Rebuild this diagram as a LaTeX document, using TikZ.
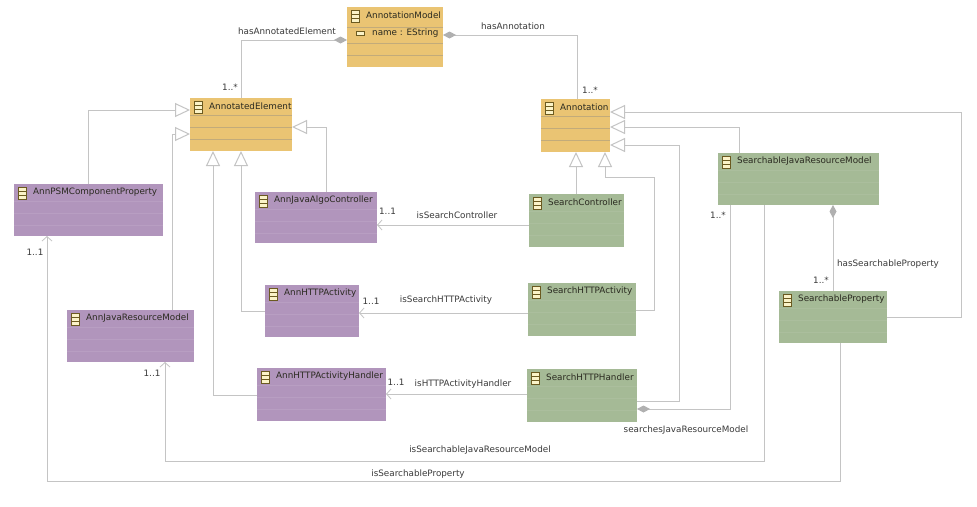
\documentclass[tikz,border=0pt]{standalone}
\usepackage{fontspec}
\setmainfont{DejaVu Sans}
\usetikzlibrary{arrows.meta}
\definecolor{lin}{HTML}{C4C4C4}
\definecolor{dia}{HTML}{B0B0B0}
\definecolor{org}{HTML}{EAC473}
\definecolor{orgl}{HTML}{C2AB7A}
\definecolor{grn}{HTML}{A5BA96}
\definecolor{grnl}{HTML}{ABBE9D}
\definecolor{pur}{HTML}{B195BC}
\definecolor{purl}{HTML}{B89EC2}
\definecolor{txt}{HTML}{3A3A3A}
\definecolor{ttl}{HTML}{2A2A20}
\definecolor{ico}{HTML}{FBF3C8}
\definecolor{icol}{HTML}{6B5A20}
\tikzset{
  cls/.style={draw=none,inner sep=0pt,outer sep=0pt,anchor=north west},
  ttlnode/.style={anchor=west,inner sep=0pt,text=ttl,font=\fontsize{8.8}{10}\selectfont},
  lbl/.style={inner sep=0pt,text=txt,font=\fontsize{8.8}{10}\selectfont},
  conn/.style={draw=lin,line width=1pt},
  gen/.style={conn,-{Triangle[open,length=15pt,width=14pt,fill=white,line width=1pt]}},
  ass/.style={conn,-{Straight Barb[length=4.5pt,width=10pt,line width=0.8pt]}},
  aggr/.style={conn,{Diamond[length=13pt,width=7pt,color=dia,fill=dia]}-},
}
% name, x1, y1, x2, y2, fill, line colour, title, line offsets
\newcommand{\umlcls}[9]{%
  \node[cls,fill=#6,minimum width=#4pt-#2pt,minimum height=#5pt-#3pt] (#1) at (#2,#3) {};
  \foreach \yy in {#9} {\draw[#7,line width=0.8pt] (#2,#3+\yy) -- (#4,#3+\yy);}
  \draw[icol,fill=ico,line width=0.7pt] (#2+4,#3+3) rectangle (#2+12.5,#3+15);
  \draw[icol,line width=0.7pt] (#2+4,#3+7) -- (#2+12.5,#3+7) (#2+4,#3+11) -- (#2+12.5,#3+11);
  \node[ttlnode] (#1-t) at (#2+19,#3+8) {#8};
}
\begin{document}
\begin{tikzpicture}[x=1pt,y=-1pt]
\useasboundingbox (0,0) rectangle (977,506);
\fill[white] (0,0) rectangle (977,506);
\umlcls{AM}{347}{7}{443}{67}{org}{orgl}{AnnotationModel}{20,36,48}
\umlcls{AE}{190}{98}{292}{151}{org}{orgl}{AnnotatedElement}{17,29,41}
\umlcls{AN}{541}{99}{610}{152}{org}{orgl}{Annotation}{17,29,41}
\umlcls{SC}{529}{194}{624}{247}{grn}{grnl}{SearchController}{17,29,41}
\umlcls{SJ}{718}{153}{879}{205}{grn}{grnl}{SearchableJavaResourceModel}{17,29,41}
\umlcls{SA}{528}{283}{636}{336}{grn}{grnl}{SearchHTTPActivity}{17,29,41}
\umlcls{SH}{527}{369}{637}{422}{grn}{grnl}{SearchHTTPHandler}{17,29,41}
\umlcls{SP}{779}{291}{887}{343}{grn}{grnl}{SearchableProperty}{17,29,41}
\umlcls{PC}{14}{184}{163}{236}{pur}{purl}{AnnPSMComponentProperty}{17,29,41}
\umlcls{JC}{255}{192}{377}{243}{pur}{purl}{AnnJavaAlgoController}{17,29,41}
\umlcls{HA}{265}{285}{359}{337}{pur}{purl}{AnnHTTPActivity}{17,29,41}
\umlcls{JR}{67}{310}{194}{362}{pur}{purl}{AnnJavaResourceModel}{17,29,41}
\umlcls{HH}{257}{368}{386}{421}{pur}{purl}{AnnHTTPActivityHandler}{17,29,41}
% attribute row
\draw[icol,fill=ico,line width=0.6pt] (356.5,31.5) rectangle (364.5,35);
\node[lbl,anchor=west,text=ttl] (attr) at (372,33) {name : EString};
% associations with diamonds
\draw[aggr] (AM.west |- 0,40) -- (241,40) -- (AE.north -| 241,0);
\draw[aggr] (AM.east |- 0,35) -- (577,35) -- (AN.north -| 577,0);
\draw[aggr] (SH.east |- 0,409) -- (730,409) -- (SJ.south -| 730,0);
\draw[aggr] (SJ.south -| 833,0) -- (SP.north -| 833,0);
% generalisations
\draw[gen] (PC.north -| 88,0) -- (88,110) -- (AE.west |- 0,110);
\draw[gen] (JR.north -| 172,0) -- (172,134) -- (AE.west |- 0,134);
\draw[gen] (JC.north -| 326,0) -- (326,127) -- (AE.east |- 0,127);
\draw[gen] (HA.west |- 0,311) -- (241,311) -- (AE.south -| 241,0);
\draw[gen] (HH.west |- 0,395) -- (213,395) -- (AE.south -| 213,0);
\draw[gen] (SC.north -| 576,0) -- (AN.south -| 576,0);
\draw[gen] (SA.east |- 0,310) -- (654,310) -- (654,177) -- (605,177) -- (AN.south -| 605,0);
\draw[gen] (SH.east |- 0,401) -- (679,401) -- (679,145) -- (AN.east |- 0,145);
\draw[gen] (SJ.north -| 739,0) -- (739,127) -- (AN.east |- 0,127);
\draw[gen] (SP.east |- 0,317) -- (961,317) -- (961,112) -- (AN.east |- 0,112);
% plain navigable associations
\draw[ass] (SC.west |- 0,225) -- (JC.east |- 0,225);
\draw[ass] (SA.west |- 0,313) -- (HA.east |- 0,313);
\draw[ass] (SH.west |- 0,394) -- (HH.east |- 0,394);
\draw[ass] (SJ.south -| 764,0) -- (764,461) -- (165,461) -- (JR.south -| 165,0);
\draw[ass] (SP.south -| 840,0) -- (840,481) -- (47,481) -- (PC.south -| 47,0);
% labels
\node[lbl] (l1) at (287,31) {hasAnnotatedElement};
\node[lbl] (l2) at (230,87) {1..*};
\node[lbl] (l3) at (513,26) {hasAnnotation};
\node[lbl] (l4) at (590,90) {1..*};
\node[lbl] (l5) at (387.5,211) {1..1};
\node[lbl] (l6) at (457,215) {isSearchController};
\node[lbl] (l7) at (371,301) {1..1};
\node[lbl] (l8) at (446,300) {isSearchHTTPActivity};
\node[lbl] (l9) at (396,382) {1..1};
\node[lbl] (l10) at (463,384) {isHTTPActivityHandler};
\node[lbl] (l11) at (686,430) {searchesJavaResourceModel};
\node[lbl] (l12) at (480,450) {isSearchableJavaResourceModel};
\node[lbl] (l13) at (418,474) {isSearchableProperty};
\node[lbl] (l14) at (888,264) {hasSearchableProperty};
\node[lbl] (l15) at (821,280) {1..*};
\node[lbl] (l16) at (718,215) {1..*};
\node[lbl] (l17) at (35,252) {1..1};
\node[lbl] (l18) at (152,373) {1..1};
\end{tikzpicture}
\end{document}
